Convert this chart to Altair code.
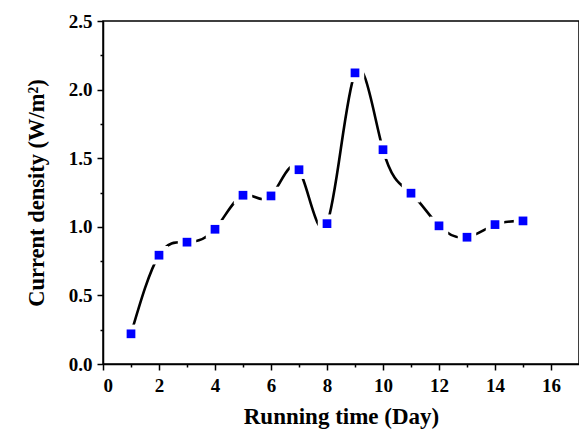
import altair as alt
import pandas as pd

days = [1, 2, 3, 4, 5, 6, 7, 8, 9, 10, 11, 12, 13, 14, 15]
density = [0.22, 0.793, 0.888, 0.982, 1.23, 1.225, 1.416, 1.023, 2.122, 1.562, 1.245, 1.007, 0.924, 1.016, 1.043]
x_major = [0, 2, 4, 6, 8, 10, 12, 14, 16]
x_minor = [1, 3, 5, 7, 9, 11, 13, 15]
y_major = [0.0, 0.5, 1.0, 1.5, 2.0, 2.5]
y_minor = [0.25, 0.75, 1.25, 1.75, 2.25]

df = pd.DataFrame({"day": days, "cd": density})

FONT = "Liberation Serif"
xs = alt.Scale(domain=[0, 17], nice=False, zero=False)
ys = alt.Scale(domain=[0, 2.5], nice=False, zero=False)

base = alt.Chart(df)

line = base.mark_line(interpolate="natural", color="black", strokeWidth=2.6).encode(
    x=alt.X("day:Q", scale=xs,
            axis=alt.Axis(values=x_major, format="d", title="Running time (Day)",
                          tickSize=6, labelPadding=6, titlePadding=10, orient="bottom",
                          titleFontSize=23)),
    y=alt.Y("cd:Q", scale=ys,
            axis=alt.Axis(values=y_major, format=".1f", title="Current density (W/m²)",
                          tickSize=6, labelPadding=5, titlePadding=20, orient="left",
                          titleFontSize=22.5)),
)

minor = base.mark_point(opacity=0).encode(
    x=alt.X("day:Q", scale=xs,
            axis=alt.Axis(values=x_minor, labels=False, title=None, tickSize=3,
                          domain=False, orient="bottom")),
    y=alt.Y("cd:Q", scale=ys,
            axis=alt.Axis(values=y_minor, labels=False, title=None, tickSize=3,
                          domain=False, orient="left")),
)

gap = base.mark_square(size=340, color="white", opacity=1).encode(
    x=alt.X("day:Q", scale=xs, axis=None),
    y=alt.Y("cd:Q", scale=ys, axis=None),
)

pts = base.mark_square(size=76, color="#0000FF", opacity=1).encode(
    x=alt.X("day:Q", scale=xs, axis=None),
    y=alt.Y("cd:Q", scale=ys, axis=None),
)

chart = (
    alt.layer(line, minor, gap, pts)
    .resolve_axis(x="independent", y="independent")
    .properties(
        width=476, height=343,
        autosize=alt.AutoSizeParams(type="none"),
        padding={"left": 103, "top": 21, "right": 0, "bottom": 65},
        background="white",
    )
    .configure_view(stroke="black", strokeWidth=1.5)
    .configure_axis(
        grid=False,
        domainColor="black", domainWidth=1.5,
        tickColor="black", tickWidth=1.5,
        labelFont=FONT, labelFontWeight="bold", labelFontSize=19, labelColor="black",
        titleFont=FONT, titleFontWeight="bold", titleColor="black",
    )
)

chart.save("out.html", embed_options={"renderer": "svg", "actions": False})
